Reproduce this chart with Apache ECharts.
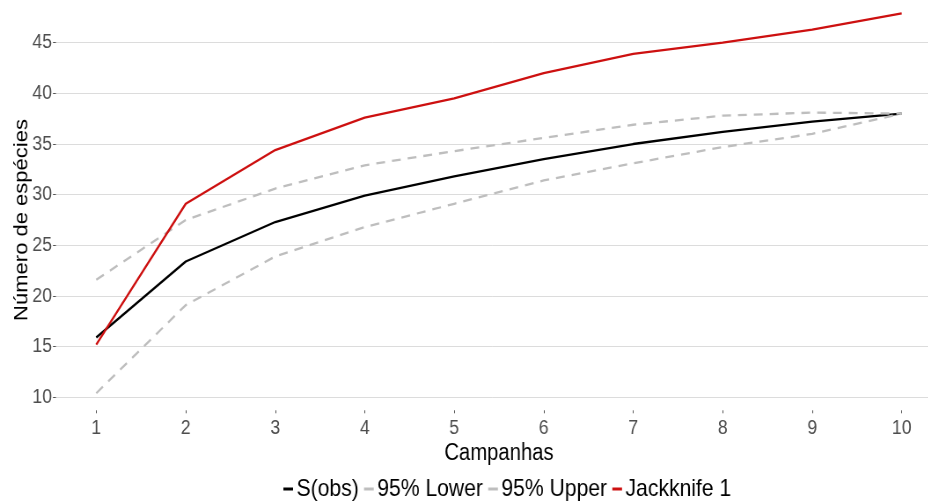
<!DOCTYPE html>
<html>
<head>
<meta charset="utf-8">
<script src="https://cdn.jsdelivr.net/npm/echarts@6/dist/echarts.min.js"></script>
<style>
html,body{margin:0;padding:0;background:#fff;overflow:hidden}
#wrap{width:928px;height:503px;overflow:hidden;position:relative}
#c{width:1054.5px;height:503px;transform:scaleX(0.88);transform-origin:0 0}
</style>
</head>
<body>
<div id="wrap"><div id="c"></div></div>
<script>
const campanhas = [1, 2, 3, 4, 5, 6, 7, 8, 9, 10];
const sObs = [15.9, 23.4, 27.3, 29.9, 31.8, 33.5, 35.0, 36.2, 37.2, 38.0];
const lower95 = [10.4, 19.1, 23.9, 26.8, 29.1, 31.4, 33.1, 34.7, 36.0, 38.0];
const upper95 = [21.6, 27.5, 30.6, 32.9, 34.3, 35.6, 36.9, 37.8, 38.1, 38.0];
const jack1 = [15.2, 29.1, 34.4, 37.6, 39.5, 42.0, 43.9, 45.0, 46.3, 47.9];
const legendNames = ['S(obs)', '95% Lower', '95% Upper', 'Jackknife 1'];

const font = '"Liberation Sans", Arial, sans-serif';
function pts(arr){ return campanhas.map((c,i)=>[c, arr[i]]); }

const chart = echarts.init(document.getElementById('c'), null, {renderer:'canvas'});
chart.setOption({
  animation: false,
  backgroundColor: '#ffffff',
  grid: {left: 63.6, top: 42.7, width: 1006.8, height: 354.6, containLabel: false, outerBoundsMode: 'none'},
  xAxis: {
    type: 'value', min: 0.55, max: 10.45,
    offset: 13,
    name: 'Campanhas', nameLocation: 'middle', nameGap: 32, nameMoveOverlap: false,
    nameTextStyle: {color: '#000', fontSize: 23, fontFamily: font},
    axisLine: {show: false},
    axisTick: {show: true, length: 3, lineStyle: {color: '#555'}, customValues: campanhas},
    axisLabel: {color: '#4d4d4d', fontSize: 20, fontFamily: font, margin: 8, customValues: campanhas},
    splitLine: {show: false}
  },
  yAxis: {
    type: 'value', min: 10, max: 45, interval: 5,
    name: 'Número de espécies', nameLocation: 'middle', nameGap: 28, nameRotate: 90, nameMoveOverlap: false,
    nameTextStyle: {color: '#000', fontSize: 22, fontFamily: font},
    axisLine: {show: false},
    axisTick: {show: true, length: 3.4, lineStyle: {color: '#555'}},
    axisLabel: {color: '#4d4d4d', fontSize: 20, fontFamily: font, margin: 4.5},
    splitLine: {show: true, lineStyle: {color: '#dcdcdc', width: 1}}
  },
  legend: {
    top: 472, left: 317,
    itemWidth: 11, itemHeight: 3, itemGap: 6, icon: 'rect',
    textStyle: {color: '#000', fontSize: 24, fontFamily: font, padding: [0,0,0,-1]},
    data: legendNames
  },
  series: [
    {name: legendNames[0], type: 'line', data: pts(sObs), showSymbol: false, clip: false,
     itemStyle: {color: '#000'}, lineStyle: {color: '#000', width: 2.3}},
    {name: legendNames[1], type: 'line', data: pts(lower95), showSymbol: false, clip: false,
     itemStyle: {color: '#bebebe'}, lineStyle: {color: '#bebebe', width: 2.3, type: [10, 8]}},
    {name: legendNames[2], type: 'line', data: pts(upper95), showSymbol: false, clip: false,
     itemStyle: {color: '#bebebe'}, lineStyle: {color: '#bebebe', width: 2.3, type: [10, 8]}},
    {name: legendNames[3], type: 'line', data: pts(jack1), showSymbol: false, clip: false,
     itemStyle: {color: '#cd1010'}, lineStyle: {color: '#cd1010', width: 2.3}}
  ]
});
</script>
</body>
</html>
